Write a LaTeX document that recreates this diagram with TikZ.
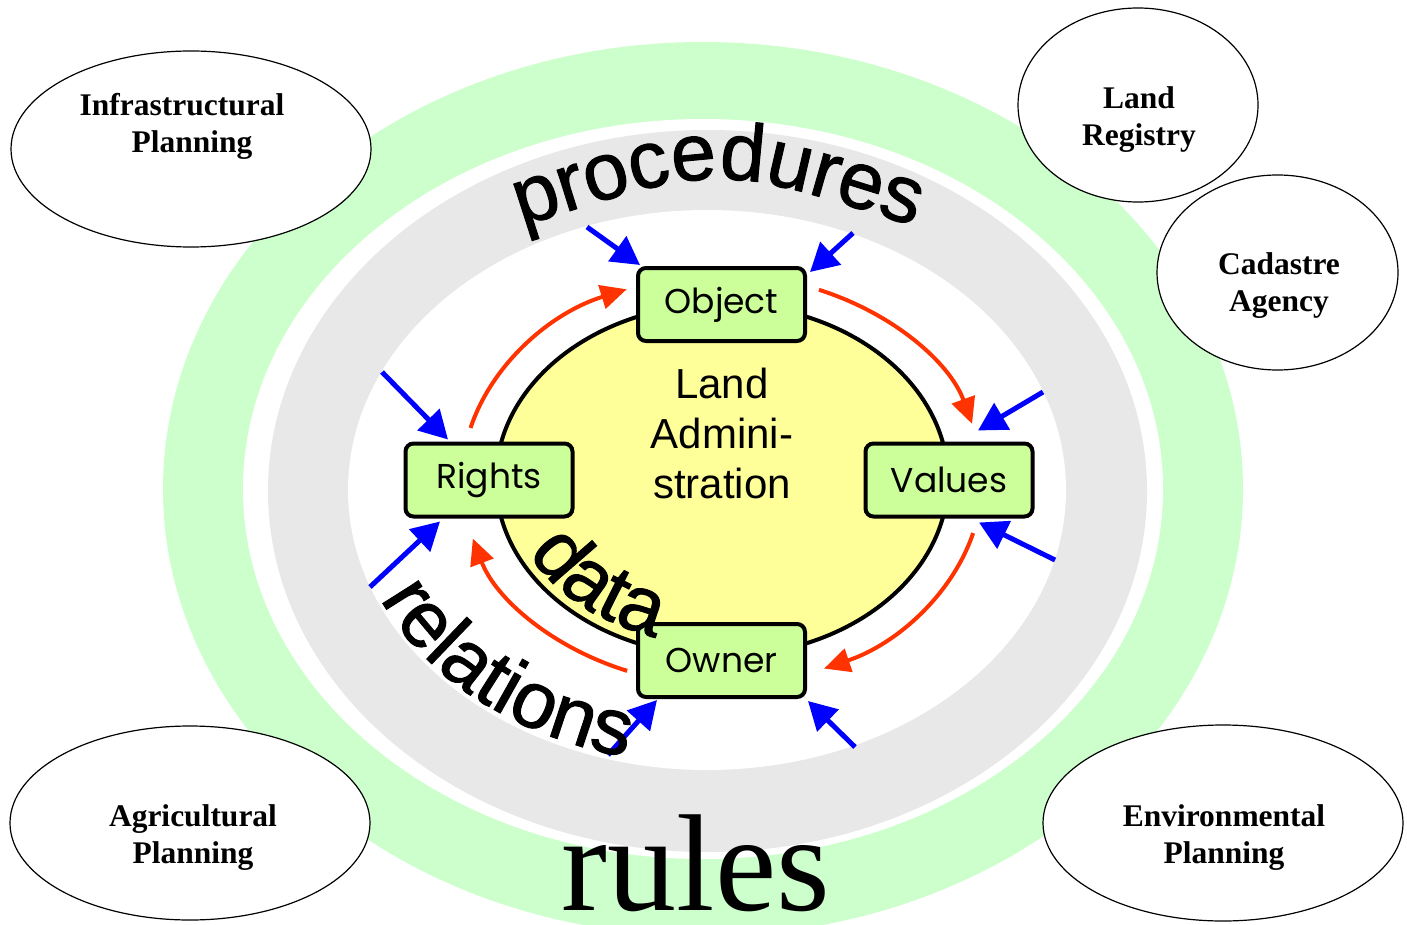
\documentclass[tikz,border=0pt]{standalone}
\usepackage{fontspec}
\newfontfamily\arialf{Liberation Sans}
\newfontfamily\arialw[FakeBold=1.2]{Liberation Sans}
\newfontfamily\timesf{Liberation Serif}
\newfontfamily\gothf{Poppins}
\usetikzlibrary{arrows.meta,shapes.geometric,decorations.text,calc}
\definecolor{ringgreen}{HTML}{CCFFCC}
\definecolor{ringgray}{HTML}{E8E8E8}
\definecolor{corey}{HTML}{FFFF99}
\definecolor{boxgreen}{HTML}{CCFF99}
\definecolor{redarr}{HTML}{FF3300}
\definecolor{bluearr}{HTML}{0000FF}
\begin{document}
\begin{tikzpicture}[x=1pt,y=-1pt,
 stepbox/.style={draw=black, line width=4pt, fill=boxgreen, rounded corners=8pt,
   minimum width=167pt, minimum height=73pt, inner sep=0pt,
   font=\gothf\fontsize{34.5}{38}\selectfont},
 party/.style={draw=black, line width=1.2pt, fill=white, ellipse, inner sep=0pt},
 partytext/.style={font=\timesf\bfseries\fontsize{31.5}{37}\selectfont, align=center},
 bluearrow/.style={draw=bluearr, line width=5pt, -{Triangle[length=28pt,width=30pt]}},
 redarrow/.style={draw=redarr, line width=4pt, -{Triangle[length=26pt,width=24pt]}}
]
\useasboundingbox (0,0) rectangle (1407,925);
\fill[white] (0,0) rectangle (1407,925);
\clip (0,0) rectangle (1407,925);

% rings
\fill[ringgreen] (703,489) ellipse [x radius=540, y radius=447];
\fill[white] (703,489) ellipse [x radius=460, y radius=370];
\fill[ringgray] (707.5,491) ellipse [x radius=439.5, y radius=361];
\fill[white] (707,490) ellipse [x radius=359, y radius=280];

% core
\node[ellipse, draw=black, line width=4pt, fill=corey, minimum width=452pt, minimum height=352pt, inner sep=0pt] (core) at (722,480) {};
\coordinate (yc) at (722,480);

% red cycle arrows
\draw[redarrow] ([shift={(194.7:260 and 205)}]yc) arc[start angle=194.7, end angle=248.5, x radius=260, y radius=205];
\draw[redarrow] ([shift={(-68.1:260 and 205)}]yc) arc[start angle=-68.1, end angle=-15.9, x radius=260, y radius=205];
\draw[redarrow] ([shift={(15:260 and 205)}]yc) arc[start angle=15, end angle=66.9, x radius=260, y radius=205];
\draw[redarrow] ([shift={(111.4:260 and 205)}]yc) arc[start angle=111.4, end angle=163.4, x radius=260, y radius=205];

% boxes
\node[stepbox] (obj) at (721.5,304.5) {Object};
\node[stepbox] (rig) at (489,480) {Rights};
\node[stepbox] (val) at (949,480) {Values};
\node[stepbox] (own) at (721.5,660.5) {Owner};

\node[font=\arialf\fontsize{42}{50}\selectfont, align=center] (la) at (722,433) {Land\\Admini-\\stration};

% blue arrows
\coordinate (b1) at (587,227);
\coordinate (b2) at (853,233);
\coordinate (b3) at (382,372);
\coordinate (b4) at (1043,392);
\coordinate (b5) at (1055,560);
\coordinate (b6) at (370,587);
\coordinate (b7) at (608,755);
\coordinate (b8) at (855,747);
\draw[bluearrow] (b1) -- ($(obj.north west)+(4,-1)$);
\draw[bluearrow] (b2) -- ($(obj.north east)+(3,6)$);
\draw[bluearrow] (b3) -- ($(rig.north)+(-41,-2)$);
\draw[bluearrow] (b4) -- ($(val.north)+(29,-11)$);
\draw[bluearrow] (b5) -- ($(val.south)+(30,4)$);
\draw[bluearrow] (b6) -- ($(rig.south)+(-49,3)$);
\draw[bluearrow] (b7) -- ($(own.south west)+(21,1)$);
\draw[bluearrow] (b8) -- ($(own.south east)+(1,2)$);

% curved words
\path[decorate, decoration={text along path, text align=center,
  text={|\arialw\fontsize{81}{81}\selectfont|procedures}}]
  (520,227) .. controls (718,163) .. (916,227);
\path[decorate, decoration={text along path, text align=center,
  text={|\arialw\fontsize{80}{80}\selectfont|data}}]
  ([shift={(175:216 and 165)}]yc) arc[start angle=175, end angle=91, x radius=216, y radius=165];
\coordinate (rc) at (707,490);
\path[decorate, decoration={text along path, text align=center,
  text={|\arialw\fontsize{80}{80}\selectfont|relations}}]
  ([shift={(168:356 and 274)}]rc) arc[start angle=168, end angle=94, x radius=356, y radius=274];

\node[font=\timesf\fontsize{138}{138}\selectfont, anchor=base, inner sep=0pt] (rules) at (696,910) {rules};

% outer parties
\node[party, minimum width=360pt, minimum height=196pt] (infra) at (191,149) {};
\node[partytext] (infrat) at (182,126) {Infrastructural\\\hspace*{20pt}Planning};
\node[party, minimum width=240pt, minimum height=194pt] (lreg) at (1138,105) {};
\node[partytext] (lregt) at (1139,120) {Land\\Registry};
\node[party, minimum width=241pt, minimum height=195pt] (cad) at (1277.5,272.5) {};
\node[partytext] (cadt) at (1279,286) {Cadastre\\Agency};
\node[party, minimum width=360pt, minimum height=194pt] (agri) at (190,823) {};
\node[partytext] (agrit) at (193,837.5) {Agricultural\\Planning};
\node[party, minimum width=360pt, minimum height=196pt] (env) at (1223,823) {};
\node[partytext] (envt) at (1224,837.5) {Environmental\\Planning};
\end{tikzpicture}
\end{document}
